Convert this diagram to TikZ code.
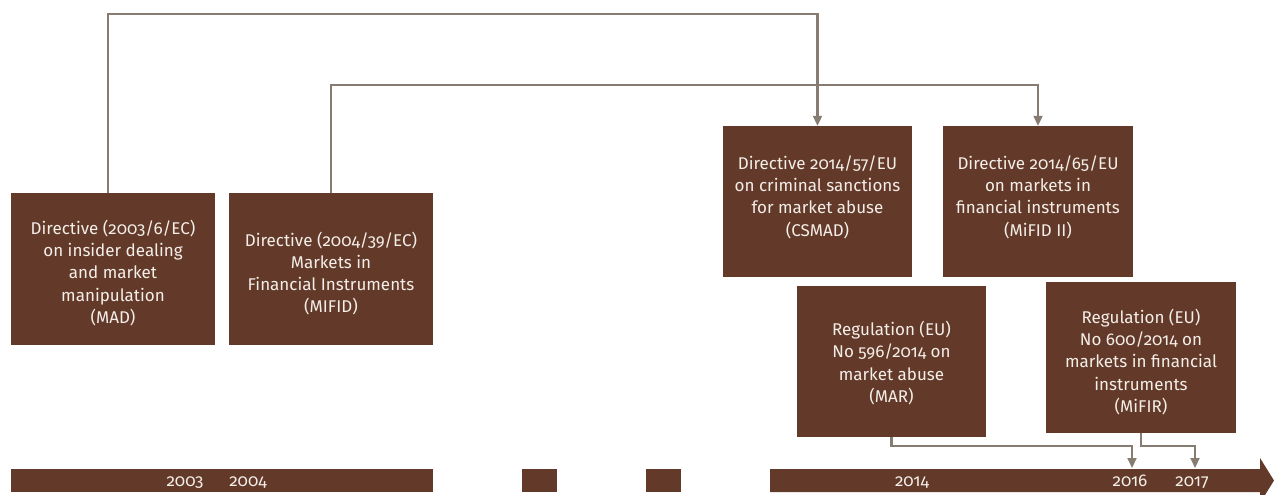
\documentclass[tikz,border=0pt]{standalone}
\usepackage{fontspec}
\setmainfont{Fira Sans}[Numbers=OldStyle]
\usetikzlibrary{arrows.meta}
\definecolor{boxbrown}{HTML}{633A2A}
\definecolor{conngray}{HTML}{877C72}
\definecolor{txtcream}{HTML}{F4EEE8}
\tikzset{
  lawbox/.style={fill=boxbrown, draw=none, inner sep=0pt},
  lawtext/.style={text=txtcream, align=center, inner sep=0pt,
    font=\fontsize{17}{22.3}\selectfont},
  conn/.style={draw=conngray, line width=2.1pt, -{Triangle[width=9pt,length=10pt]}},
  barpart/.style={fill=boxbrown, draw=none},
  yearlbl/.style={text=txtcream, font=\fontsize{17}{18}\selectfont, inner sep=0pt, anchor=base}
}
\begin{document}
\begin{tikzpicture}[x=1pt,y=-1pt]
\useasboundingbox (0,0) rectangle (1274,495);
% boxes
\node[lawbox, minimum width=204pt, minimum height=152pt,
  label={[lawtext, yshift=-4pt]center:{Directive (2003/6/EC)\\on insider dealing\\and market\\manipulation\\(MAD)}}] (mad) at (113,269) {};
\node[lawbox, minimum width=204pt, minimum height=152pt,
  label={[lawtext, yshift=-4.5pt]center:{Directive (2004/39/EC)\\Markets in\\Financial Instruments\\(MIFID)}}] (mifid) at (331,269) {};
\node[lawbox, minimum width=189pt, minimum height=151pt,
  label={[lawtext, yshift=4.5pt]center:{Directive 2014/57/EU\\on criminal sanctions\\for market abuse\\(CSMAD)}}] (csmad) at (817.5,201.5) {};
\node[lawbox, minimum width=190pt, minimum height=151pt,
  label={[lawtext, yshift=4.5pt]center:{Directive 2014/65/EU\\on markets in\\financial instruments\\(MiFID II)}}] (mifid2) at (1038,201.5) {};
\node[lawbox, minimum width=189pt, minimum height=151pt,
  label={[lawtext, yshift=-1.5pt]center:{Regulation (EU)\\No 596/2014 on\\market abuse\\(MAR)}}] (mar) at (891.5,361.5) {};
\node[lawbox, minimum width=190pt, minimum height=151pt,
  label={[lawtext, yshift=-4.5pt]center:{Regulation (EU)\\No 600/2014 on\\markets in financial\\instruments\\(MiFIR)}}] (mifir) at (1141,357.5) {};
% timeline
\fill[barpart] (11,469) rectangle (433,492);
\fill[barpart] (522,469) rectangle (557,492);
\fill[barpart] (646,469) rectangle (681,492);
\fill[barpart] (770,469) -- (1260,469) -- (1260,458) -- (1274,480.5) -- (1260,503) -- (1260,492) -- (770,492) -- cycle;
\node[yearlbl] (y2003) at (185,486) {2003};
\node[yearlbl] (y2004) at (248,486) {2004};
\node[yearlbl] (y2014) at (912,486) {2014};
\node[yearlbl] (y2016) at (1130,486) {2016};
\node[yearlbl] (y2017) at (1192,486) {2017};
% connector endpoints
\coordinate (h1) at (0,14);
\coordinate (h2) at (0,85);
\coordinate (h3) at (0,446);
\coordinate (a2016) at (1132,468);
\coordinate (a2017) at (1195,468);
% connectors
\draw[conn] ([xshift=-5pt]mad.north) |- (h1 -| csmad.north) -- (csmad.north);
\draw[conn] (mifid.north) |- (h2 -| mifid2.north) -- (mifid2.north);
\draw[conn] (mar.south) |- (h3 -| a2016) -- (a2016);
\draw[conn] (mifir.south) |- (h3 -| a2017) -- (a2017);
\end{tikzpicture}
\end{document}
